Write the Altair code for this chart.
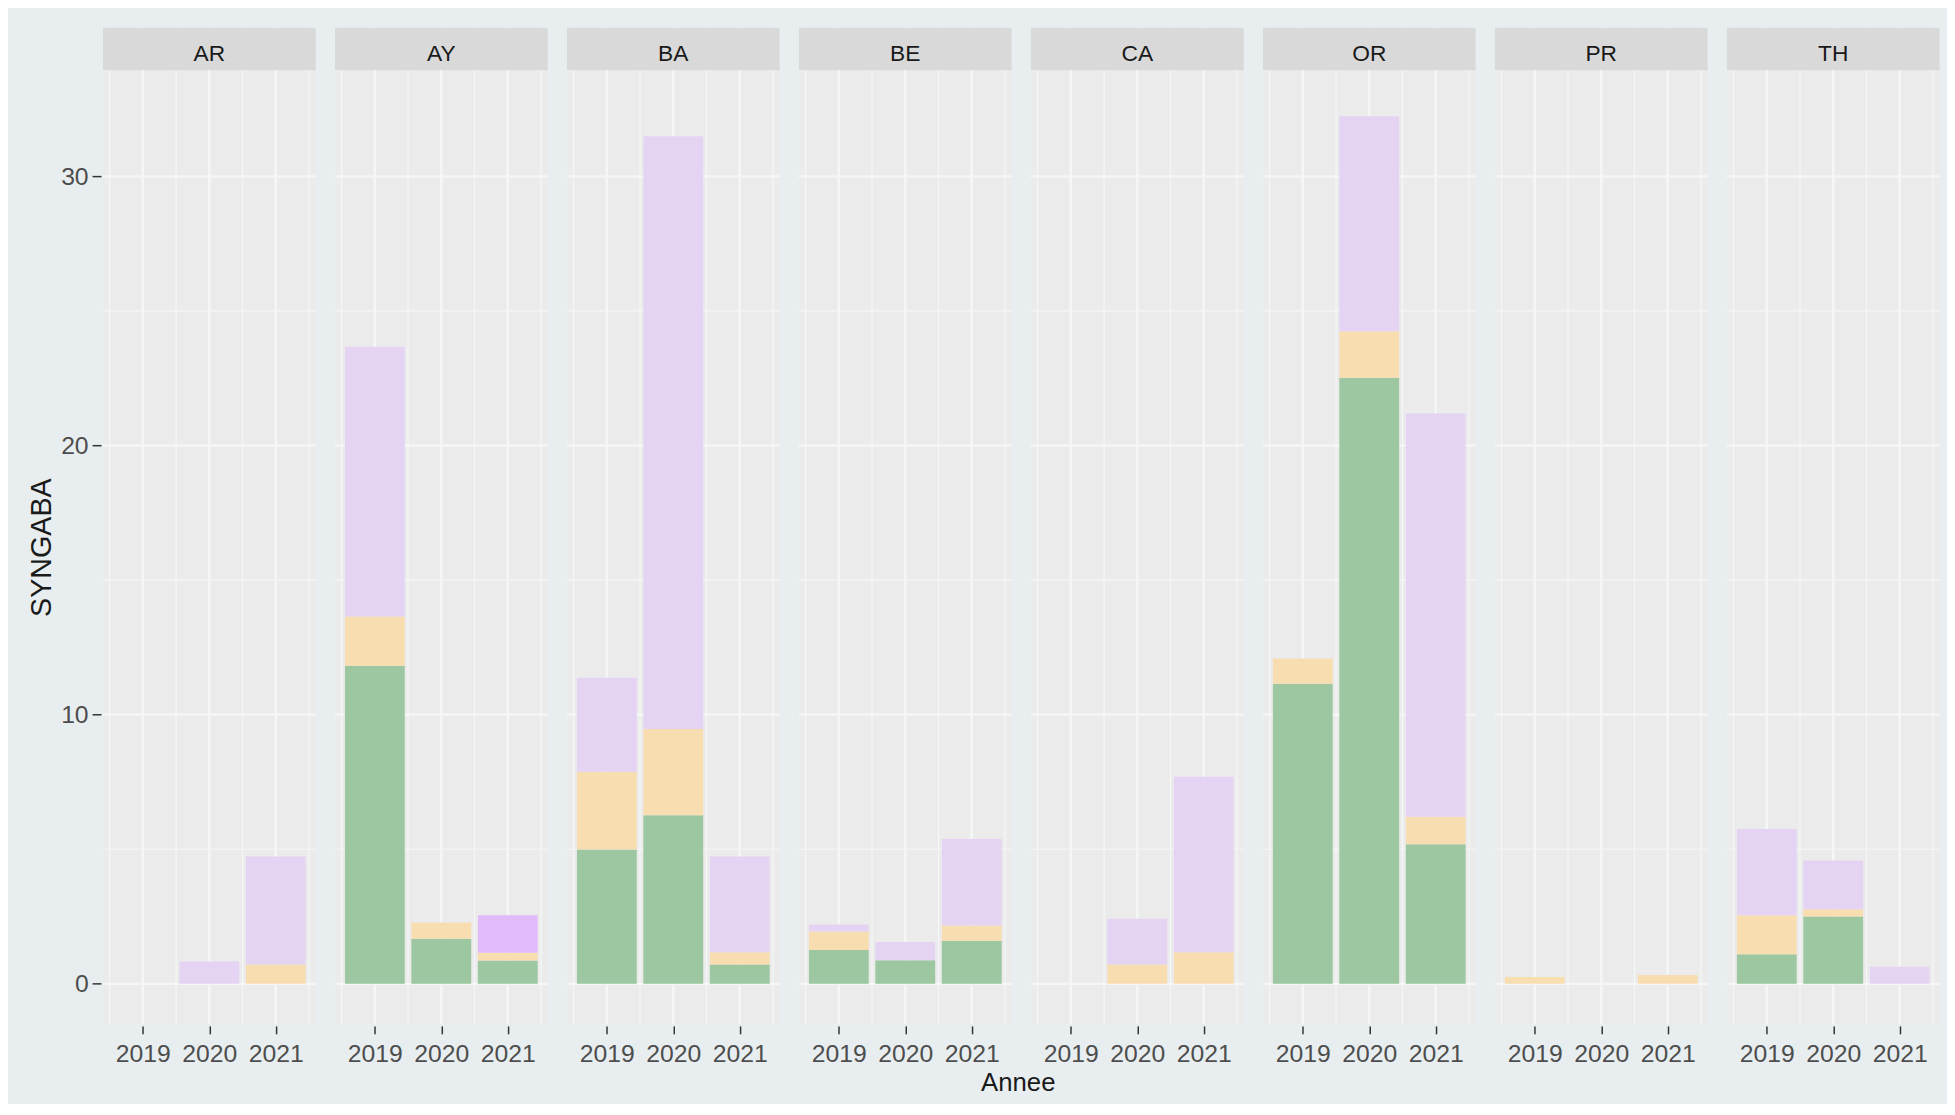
import altair as alt
import pandas as pd

sites = ["AR", "AY", "BA", "BE", "CA", "OR", "PR", "TH"]
years = [2019, 2020, 2021]
series = ["vert", "orange", "violet", "violet2"]
series_colors = ["#9CC7A1", "#F8DDB1", "#E5D3F4", "#E1BAFB"]

# segment heights, per site: [2019, 2020, 2021]
vert = {
    "AR": [0, 0, 0], "AY": [11.82, 1.67, 0.87], "BA": [4.99, 6.26, 0.72], "BE": [1.26, 0.88, 1.60],
    "CA": [0, 0, 0], "OR": [11.15, 22.52, 5.19], "PR": [0, 0, 0], "TH": [1.10, 2.50, 0],
}
orange = {
    "AR": [0, 0, 0.72], "AY": [1.83, 0.61, 0.28], "BA": [2.89, 3.21, 0.45], "BE": [0.68, 0, 0.57],
    "CA": [0, 0.72, 1.17], "OR": [0.94, 1.72, 1.02], "PR": [0.25, 0, 0.33], "TH": [1.45, 0.27, 0],
}
violet = {
    "AR": [0, 0.83, 4.01], "AY": [10.02, 0, 0], "BA": [3.49, 22.02, 3.56], "BE": [0.26, 0.67, 3.21],
    "CA": [0, 1.70, 6.52], "OR": [0, 7.99, 14.98], "PR": [0, 0, 0], "TH": [3.20, 1.81, 0.63],
}
violet2 = {
    "AR": [0, 0, 0], "AY": [0, 0, 1.40], "BA": [0, 0, 0], "BE": [0, 0, 0],
    "CA": [0, 0, 0], "OR": [0, 0, 0], "PR": [0, 0, 0], "TH": [0, 0, 0],
}

x_grid_major = [2019, 2020, 2021]
x_grid_minor = [2018.5, 2019.5, 2020.5, 2021.5]
y_grid_major = [0, 10, 20, 30]
y_grid_minor = [5, 15, 25]

rows = []
tables = [vert, orange, violet, violet2]
for s in sites:
    rows.append({"kind": "strip", "site": s})
    for i, y in enumerate(years):
        for k, name in enumerate(series):
            rows.append({"kind": "bar", "site": s, "year": y, "serie": name,
                         "order": k, "value": tables[k][s][i]})
    for g in x_grid_major:
        rows.append({"kind": "vmaj", "site": s, "gx": g})
    for g in x_grid_minor:
        rows.append({"kind": "vmin", "site": s, "gx": g})
    for g in y_grid_major:
        rows.append({"kind": "hmaj", "site": s, "gy": g})
    for g in y_grid_minor:
        rows.append({"kind": "hmin", "site": s, "gy": g})
df = pd.DataFrame(rows)

FONT = "Liberation Sans"
PW, PH, STRIP_H = 215, 964, 43
TOTAL_H = PH + STRIP_H

xscale = alt.Scale(domain=[2018.4, 2021.6], nice=False, zero=False)
yscale = alt.Scale(domain=[-1.49, 33.94], nice=False, zero=False, range=[TOTAL_H, STRIP_H])
xaxis = alt.Axis(values=years, format="d", grid=False, domain=False, tickColor="#333333",
                 tickSize=8, tickWidth=1.5, labelColor="#4D4D4D", labelFontSize=25,
                 labelPadding=8, labelAngle=0, labelFont=FONT, title=None)
yaxis = alt.Axis(values=y_grid_major, grid=False, domain=False, tickColor="#333333",
                 tickSize=9, tickWidth=1.5, labelColor="#4D4D4D", labelFontSize=25,
                 labelPadding=4, labelFont=FONT, title="SYNGABA", titleFont=FONT,
                 titleFontSize=29, titleFontWeight="normal", titleColor="#1A1A1A",
                 titlePadding=4, titleY=STRIP_H + PH / 2)

GRID = "#F5F7F7"
base = alt.Chart()

vmin = base.mark_rule(color=GRID, strokeWidth=1.2).encode(
    x=alt.X("gx:Q", scale=xscale, axis=xaxis)
).transform_filter(alt.datum.kind == "vmin")
vmaj = base.mark_rule(color=GRID, strokeWidth=2.4).encode(
    x=alt.X("gx:Q", scale=xscale, axis=xaxis)
).transform_filter(alt.datum.kind == "vmaj")
hmin = base.mark_rule(color=GRID, strokeWidth=1.2).encode(
    y=alt.Y("gy:Q", scale=yscale, axis=yaxis)
).transform_filter(alt.datum.kind == "hmin")
hmaj = base.mark_rule(color=GRID, strokeWidth=2.4).encode(
    y=alt.Y("gy:Q", scale=yscale, axis=yaxis)
).transform_filter(alt.datum.kind == "hmaj")

bars = base.mark_bar().transform_filter(
    alt.datum.kind == "bar"
).transform_stack(
    stack="value", groupby=["site", "year"], as_=["y0", "y1"],
    sort=[alt.SortField("order", order="ascending")]
).transform_calculate(
    xl="datum.year - 0.45", xr="datum.year + 0.45"
).encode(
    x=alt.X("xl:Q", scale=xscale, axis=xaxis),
    x2="xr:Q",
    y=alt.Y("y0:Q", scale=yscale, axis=yaxis),
    y2="y1:Q",
    color=alt.Color("serie:N", scale=alt.Scale(domain=series, range=series_colors), legend=None),
)

strip_rect = base.mark_rect(color="#D9D9D9").encode(
    x=alt.value(0), x2=alt.value(PW), y=alt.value(0), y2=alt.value(STRIP_H)
).transform_filter(alt.datum.kind == "strip")
strip_text = base.mark_text(font=FONT, fontSize=23, color="#1A1A1A", baseline="middle").encode(
    text="site:N", x=alt.value(PW / 2), y=alt.value(STRIP_H / 2 + 5)
).transform_filter(alt.datum.kind == "strip")

chart = alt.layer(vmin, vmaj, hmin, hmaj, bars, strip_rect, strip_text, data=df).properties(
    width=PW, height=TOTAL_H
).facet(
    column=alt.Column("site:N", sort=sites, header=alt.Header(labels=False, title=None)),
    spacing=15.5,
).properties(
    title=alt.TitleParams("Annee", orient="bottom", anchor="middle", frame="bounds", dx=34,
                          font=FONT, fontSize=26, fontWeight="normal", color="#1A1A1A", offset=4),
    background="#E8EEF0",
    padding={"left": 20, "top": 12, "right": 5, "bottom": 2},
).configure_view(
    fill="#EBEBEB", stroke="transparent"
)

chart.save("out.html", embed_options={"renderer": "svg", "actions": False})
